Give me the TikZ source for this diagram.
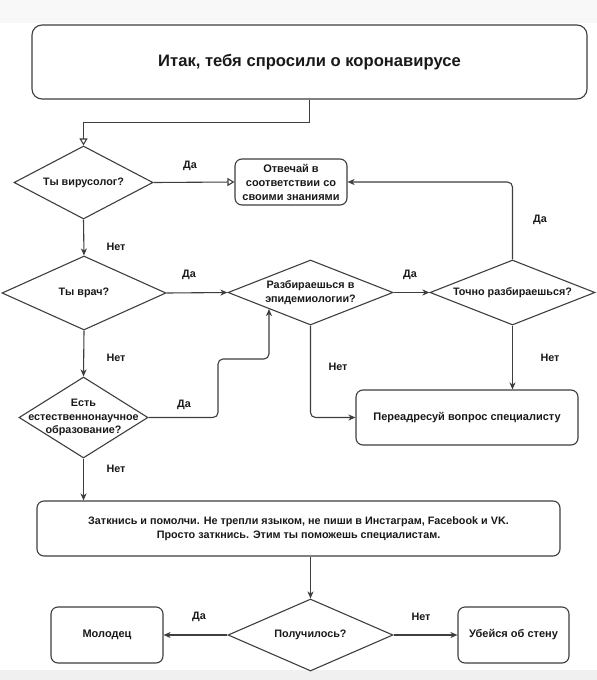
\documentclass[tikz,border=0pt]{standalone}
\usepackage{fontspec}
\setmainfont{Liberation Sans}
\usetikzlibrary{shapes.geometric,arrows.meta}
\definecolor{linec}{RGB}{62,62,62}
\definecolor{textc}{RGB}{25,25,25}
\definecolor{bandtop}{RGB}{248,248,248}
\definecolor{bandbot}{RGB}{240,240,240}
\begin{document}
\begin{tikzpicture}[x=1pt,y=-1pt,
  lbl/.style={font=\bfseries\fontsize{10.8}{13}\selectfont, text=textc, inner sep=0pt},
  box/.style={draw=linec, line width=1.1pt, rounded corners=7pt, align=center, inner sep=0pt,
    font=\bfseries\fontsize{11}{14}\selectfont, text=textc},
  dia/.style={draw=linec, line width=1.1pt, diamond, inner sep=0pt},
  dtext/.style={align=center, inner sep=0pt, font=\bfseries\fontsize{10.8}{13.5}\selectfont, text=textc},
  conn/.style={draw=linec, line width=1.1pt, -{Stealth[length=7pt,width=6pt,inset=2pt]}},
  oconn/.style={draw=linec, line width=1.1pt, -{Triangle[open,length=7pt,width=8pt,fill=white]}},
  elbow/.style={conn, rounded corners=5pt}]
\fill[bandtop] (0,0) rectangle (597,23);
\fill[bandbot] (0,670) rectangle (597,680);
\useasboundingbox (0,0) rectangle (597,680);

% boxes
\node[box, rounded corners=10pt, minimum width=555pt, minimum height=74pt,
  font=\bfseries\fontsize{16.6}{19}\selectfont] (start) at (309.5,62) {Итак, тебя спросили о коронавирусе};
\node[box, minimum width=112pt, minimum height=46pt] (ans) at (291,182) {Отвечай в\\соответствии со\\своими знаниями};
\node[box, minimum width=222pt, minimum height=55pt] (redir) at (467,417.5) {Переадресуй вопрос специалисту};
\node[box, minimum width=523pt, minimum height=55pt, font=\bfseries\fontsize{10.8}{13.5}\selectfont] (shut) at (298.5,528.5) {Заткнись и помолчи. Не трепли языком, не пиши в Инстаграм, Facebook и VK.\\Просто заткнись. Этим ты поможешь специалистам.};
\node[box, minimum width=112pt, minimum height=56pt] (good) at (107,635) {Молодец};
\node[box, minimum width=111pt, minimum height=56pt] (wall) at (513.5,635) {Убейся об стену};

% diamonds
\node[dia, minimum width=139pt, minimum height=73pt] (d1) at (83.5,182.5) {};
\node[dtext] (d1t) at (d1) {Ты вирусолог?};
\node[dia, minimum width=164pt, minimum height=74pt] (d2) at (84,293) {};
\node[dtext] (d2t) at (d2) {Ты врач?};
\node[dia, minimum width=129pt, minimum height=81pt] (d3) at (83.5,417.5) {};
\node[dtext] (d3t) at (d3) {Есть\\естественнонаучное\\образование?};
\node[dia, minimum width=165pt, minimum height=65pt] (d4) at (310.5,292.5) {};
\node[dtext] (d4t) at (d4) {Разбираешься в\\эпидемиологии?};
\node[dia, minimum width=165pt, minimum height=65pt] (d5) at (512.5,292.5) {};
\node[dtext] (d5t) at (d5) {Точно разбираешься?};
\node[dia, minimum width=165pt, minimum height=72pt] (d6) at (310.5,635) {};
\node[dtext] (d6t) at (d6) {Получилось?};

% connectors
\draw[oconn] (start.south) -- ++(0,23) -| (d1.north);
\draw[oconn] (d1.east) -- (ans.west);
\draw[conn] (d1.south) -- (d2.north);
\draw[conn] (d2.east) -- (d4.west);
\draw[conn] (d2.south) -- (d3.north);
\draw[elbow] (d3.east) -| (218,359) -| (d4.south west);
\draw[conn] (d4.east) -- (d5.west);
\draw[elbow] (d4.south) |- (redir.west);
\draw[elbow] (d5.north) |- (ans.east);
\draw[conn] (d5.south) -- (d5.south |- redir.north);
\draw[conn] (d3.south) -- (d3.south |- shut.north);
\draw[conn] (d6.north |- shut.south) -- (d6.north);
\draw[conn] (d6.west) -- (good.east);
\draw[conn] (d6.east) -- (wall.west);

% labels
\node[lbl] (l1) at (190,166) {Да};
\node[lbl] (l2) at (116,247) {Нет};
\node[lbl] (l3) at (189,275) {Да};
\node[lbl] (l4) at (116,358) {Нет};
\node[lbl] (l5) at (184,405) {Да};
\node[lbl] (l6) at (410,275) {Да};
\node[lbl] (l7) at (338,367) {Нет};
\node[lbl] (l8) at (540,220) {Да};
\node[lbl] (l9) at (550,358) {Нет};
\node[lbl] (l10) at (116,469) {Нет};
\node[lbl] (l11) at (199,617) {Да};
\node[lbl] (l12) at (421,617) {Нет};
\end{tikzpicture}
\end{document}
